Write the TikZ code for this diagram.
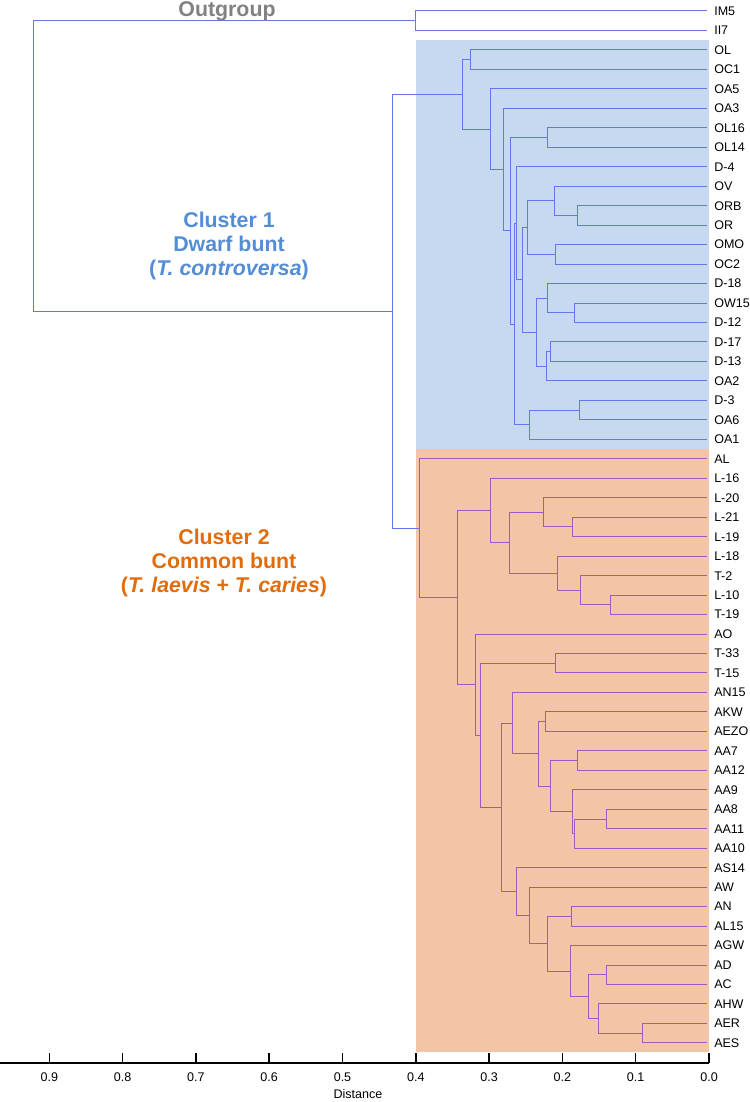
\documentclass[tikz,border=0pt]{standalone}
\usepackage{fontspec}
\setmainfont{Liberation Sans}
\usetikzlibrary{calc}
\definecolor{dwarffill}{RGB}{198,217,240}
\definecolor{commonfill}{RGB}{243,196,166}
\definecolor{branchblue}{RGB}{100,120,235}
\definecolor{branchpurple}{RGB}{160,90,200}
\definecolor{dwarftext}{RGB}{84,141,212}
\definecolor{commontext}{RGB}{227,108,10}
\definecolor{outtext}{RGB}{130,130,130}

\newcommand\clade[5]{%
  \path let \p1=(#4), \p2=(#5) in coordinate (#2) at ({(709-733*#3)*0.75pt}, {0.5*(\y1+\y2)});
  \draw[#1] (#2) |- (#4) (#2) |- (#5);
}

\begin{document}
\begin{tikzpicture}[x=0.75pt, y=-0.75pt,
  leaf/.style={anchor=west, inner xsep=5.25pt, inner ysep=1pt, font=\fontsize{9.4}{11}\selectfont},
  tb/.style={draw=branchblue, line width=0.75pt},
  pb/.style={draw=branchpurple, line width=0.75pt},
  clab/.style={align=center, font=\fontsize{16}{18}\selectfont\bfseries},
  ticklab/.style={font=\fontsize{9.4}{11}\selectfont}
]
  \useasboundingbox (0,0) rectangle (749,1102);
  \fill[dwarffill] (416,40) rectangle (709,449);
  \fill[commonfill] (416,449) rectangle (709,1052);

  \foreach \lab [count=\i] in {IM5,II7,OL,OC1,OA5,OA3,OL16,OL14,D-4,OV,ORB,OR,OMO,OC2,D-18,OW15,D-12,D-17,D-13,OA2,D-3,OA6,OA1,AL,L-16,L-20,L-21,L-19,L-18,T-2,L-10,T-19,AO,T-33,T-15,AN15,AKW,AEZO,AA7,AA12,AA9,AA8,AA11,AA10,AS14,AW,AN,AL15,AGW,AD,AC,AHW,AER,AES}
    \node[leaf] (t\i) at (707,{11+19.47*(\i-1)}) {\lab};

  \clade{tb}{og}{0.400}{t1}{t2}

  \clade{tb}{c34}{0.325}{t3}{t4}
  \clade{tb}{c78}{0.221}{t7}{t8}
  \clade{tb}{c1112}{0.180}{t11}{t12}
  \clade{tb}{c10}{0.211}{t10}{c1112}
  \clade{tb}{c1314}{0.210}{t13}{t14}
  \clade{tb}{cE}{0.247}{c10}{c1314}
  \clade{tb}{c1617}{0.183}{t16}{t17}
  \clade{tb}{c15}{0.221}{t15}{c1617}
  \clade{tb}{c1819}{0.216}{t18}{t19}
  \clade{tb}{c20}{0.222}{c1819}{t20}
  \clade{tb}{cF}{0.236}{c15}{c20}
  \clade{tb}{cG}{0.254}{cE}{cF}
  \clade{tb}{cH}{0.262}{t9}{cG}
  \clade{tb}{c2122}{0.177}{t21}{t22}
  \clade{tb}{c23}{0.245}{c2122}{t23}
  \clade{tb}{cI}{0.265}{cH}{c23}
  \clade{tb}{cC}{0.271}{c78}{cI}
  \clade{tb}{cB}{0.281}{t6}{cC}
  \clade{tb}{cA}{0.298}{t5}{cB}
  \clade{tb}{dwarf}{0.336}{c34}{cA}

  \clade{pb}{c2728}{0.186}{t27}{t28}
  \clade{pb}{c26}{0.226}{t26}{c2728}
  \clade{pb}{c3132}{0.134}{t31}{t32}
  \clade{pb}{c30}{0.176}{t30}{c3132}
  \clade{pb}{c29}{0.207}{t29}{c30}
  \clade{pb}{cN}{0.272}{c26}{c29}
  \clade{pb}{cL}{0.298}{t25}{cN}
  \clade{pb}{c3435}{0.210}{t34}{t35}
  \clade{pb}{c3738}{0.223}{t37}{t38}
  \clade{pb}{c3940}{0.180}{t39}{t40}
  \clade{pb}{c4243}{0.140}{t42}{t43}
  \clade{pb}{cX}{0.183}{c4243}{t44}
  \clade{pb}{cW}{0.186}{t41}{cX}
  \clade{pb}{cV}{0.216}{c3940}{cW}
  \clade{pb}{cU}{0.233}{c3738}{cV}
  \clade{pb}{cS}{0.268}{t36}{cU}
  \clade{pb}{c4748}{0.187}{t47}{t48}
  \clade{pb}{c5051}{0.140}{t50}{t51}
  \clade{pb}{c5354}{0.091}{t53}{t54}
  \clade{pb}{c52}{0.151}{t52}{c5354}
  \clade{pb}{cAB}{0.165}{c5051}{c52}
  \clade{pb}{cAA}{0.189}{t49}{cAB}
  \clade{pb}{cZ}{0.220}{c4748}{cAA}
  \clade{pb}{cY}{0.245}{t46}{cZ}
  \clade{pb}{cT}{0.263}{t45}{cY}
  \clade{pb}{cR}{0.283}{cS}{cT}
  \clade{pb}{cQ}{0.312}{c3435}{cR}
  \clade{pb}{cM}{0.318}{t33}{cQ}
  \clade{pb}{cK}{0.343}{cL}{cM}
  \clade{pb}{common}{0.395}{t24}{cK}

  \clade{tb}{ingroup}{0.432}{dwarf}{common}
  \clade{tb}{root}{0.921}{og}{ingroup}

  \node[clab, text=outtext] (outlab) at (227,11.5) {Outgroup};
  \node[clab, text=dwarftext] (dwarflab) at (229,246) {Cluster 1\\Dwarf bunt\\(\textit{T. controversa})};
  \node[clab, text=commontext] (commonlab) at (224,563) {Cluster 2\\Common bunt\\(\textit{T. laevis} + \textit{T. caries})};

  \draw[line width=1.1pt] (0,1063) -- (709,1063);
  \foreach \k in {0,...,9} {
    \draw[line width=1.1pt] ({709-73.3*\k},1063) -- ++(0,-10);
    \node[ticklab] (tk\k) at ({709-73.3*\k},1077.5) {0.\k};
  }
  \node[ticklab] (xlab) at (358,1094) {Distance};
\end{tikzpicture}
\end{document}
